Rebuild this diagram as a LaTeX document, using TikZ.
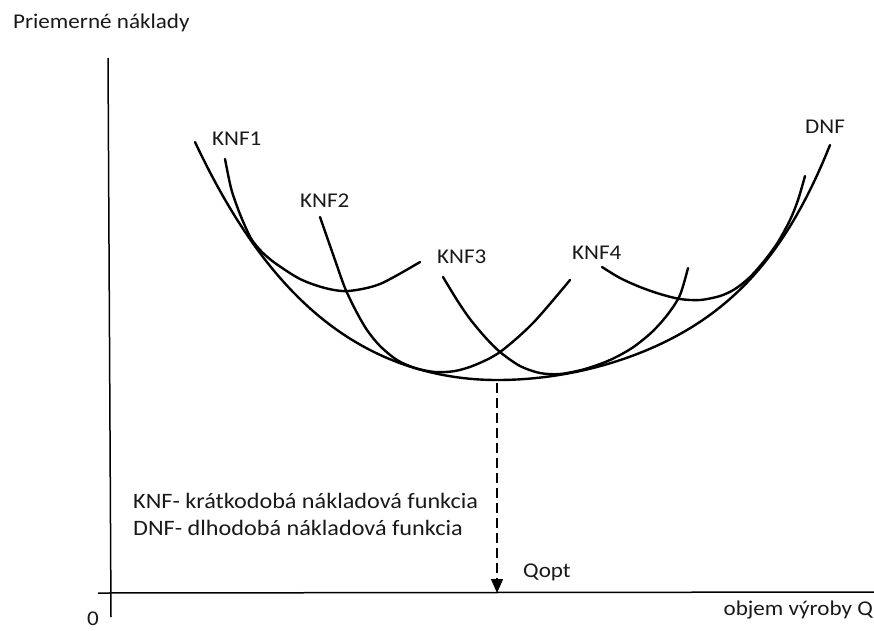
\documentclass[tikz,border=0pt]{standalone}
\usepackage{fontspec}
\setmainfont{Carlito}[FakeStretch=1.1]
\usetikzlibrary{arrows.meta}
\newcommand\lblsize{\fontsize{21}{25}\selectfont}
\newcommand\legsize{\fontsize{22}{26}\selectfont}
\tikzset{
  axisline/.style={line width=1.5pt},
  costcurve/.style={line width=2.4pt, line cap=round, line join=round},
  lbl/.style={anchor=base west, inner sep=0pt, font=\lblsize, text=black!90},
  leglbl/.style={lbl, font=\legsize}
}
\begin{document}
\begin{tikzpicture}[x=1pt, y=-1pt]
\useasboundingbox (0,0) rectangle (874,630);
% axes
\coordinate (ytop) at (108,58);
\coordinate (ybot) at (111,617);
\coordinate (xleft) at (98,593);
\coordinate (xright) at (874,592);
\draw[axisline] (ytop) -- (ybot);
\draw[axisline] (xleft) -- (xright);
\node[lbl] (ylab) at (13,28) {Priemerné náklady};
\node[lbl, anchor=base east] (xlab) at (873,615) {objem výroby Q};
\node[lbl] (zero) at (87,625) {0};
% long-run curve (DNF)
\draw[costcurve] plot[domain=195:497, samples=80] (\x, {380-155*((497-\x)/302)^2-83*((497-\x)/302)^4})
  -- plot[domain=497:830, samples=80] (\x, {380-144*((\x-497)/333)^2-91*((\x-497)/333)^6});
% short-run curves (KNF1..KNF4)
\draw[costcurve] plot[smooth] coordinates {(225,159) (231,188) (238,209) (245,226) (252,240) (262,252) (275,263) (300,279) (325,288) (348,291) (380,284) (420,262)};
\draw[costcurve] plot[smooth] coordinates {(320,217) (335,260) (345,288) (356,311) (367,330) (380,346) (397,360) (415,368) (435,372) (455,371) (475,365) (500,352) (533,323) (570,280)};
\draw[costcurve] plot[smooth] coordinates {(443,277) (457,300) (470,319) (485,337) (500,352) (520,366) (540,373) (560,374) (585,369) (610,360) (632,348) (652,332) (668,314) (680,295) (688,268)};
\draw[costcurve] plot[smooth] coordinates {(602,267) (620,278) (640,287) (660,294) (680,299) (700,300) (720,296) (735,289) (750,277) (765,260) (778,242) (790,220) (798,200) (805,176)};
\node[lbl] (knf1) at (212,145) {KNF1};
\node[lbl] (knf2) at (300,207) {KNF2};
\node[lbl] (knf3) at (437,263) {KNF3};
\node[lbl] (knf4) at (572,259) {KNF4};
\node[lbl] (dnf) at (805,133) {DNF};
% optimum
\coordinate (dmin) at (497,383);
\coordinate (qopt) at (497,593);
\draw[line width=1.4pt, dash pattern=on 10pt off 5pt, -{Triangle[width=12pt,length=14pt]}] (dmin) -- (qopt);
\node[lbl] (qlab) at (523,577) {Qopt};
\node[leglbl] (leg1) at (133,508) {KNF- krátkodobá nákladová funkcia};
\node[leglbl] (leg2) at (133,535) {DNF- dlhodobá nákladová funkcia};
\end{tikzpicture}
\end{document}
